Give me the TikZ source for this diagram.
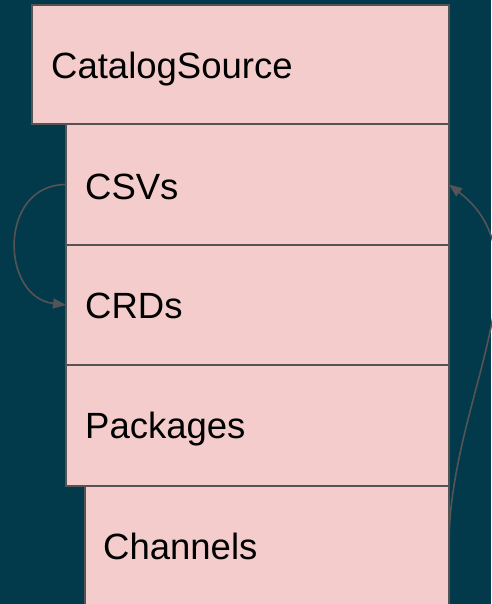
\documentclass[tikz,border=0pt]{standalone}
\usepackage{fontspec}
\setmainfont{Liberation Sans}
\usetikzlibrary{arrows.meta}
\definecolor{bgc}{HTML}{033A4B}
\definecolor{boxfill}{HTML}{F4CCCC}
\definecolor{edgec}{HTML}{545454}
\tikzset{
  layerbox/.style={draw=edgec, fill=boxfill, line width=2pt, inner sep=0pt, outer sep=0pt, anchor=north west},
  label/.style={anchor=base west, inner sep=0pt, font=\fontsize{36.5}{40}\selectfont, text=black},
  link/.style={draw=edgec, line width=1.6pt, -{Triangle[length=13pt,width=10pt]}}
}
\begin{document}
\begin{tikzpicture}[x=1pt,y=-1pt]
\fill[bgc] (0,0) rectangle (491,604);
\useasboundingbox (0,0) rectangle (491,604);
\node[layerbox, minimum width=417pt, minimum height=119pt] (cat) at (32,5) {};
\node[layerbox, minimum width=383pt, minimum height=121pt] (csv) at (66,124) {};
\node[layerbox, minimum width=383pt, minimum height=120pt] (crd) at (66,245) {};
\node[layerbox, minimum width=383pt, minimum height=121pt] (pkg) at (66,365) {};
\node[layerbox, minimum width=364pt, minimum height=160pt] (chn) at (85,486) {};
\node[label] (tcat) at (51,79) {CatalogSource};
\node[label] (tcsv) at (85,199) {CSVs};
\node[label] (tcrd) at (85,318) {CRDs};
\node[label] (tpkg) at (85,438) {Packages};
\node[label] (tchn) at (103,559) {Channels};
\coordinate (chr) at (449,545);
\draw[link] (csv.west) .. controls +(-68,0) and +(-66,-8) .. (crd.west);
\draw[link] (chr) .. controls (449,400) and (550,262) .. (csv.east);
\end{tikzpicture}
\end{document}
